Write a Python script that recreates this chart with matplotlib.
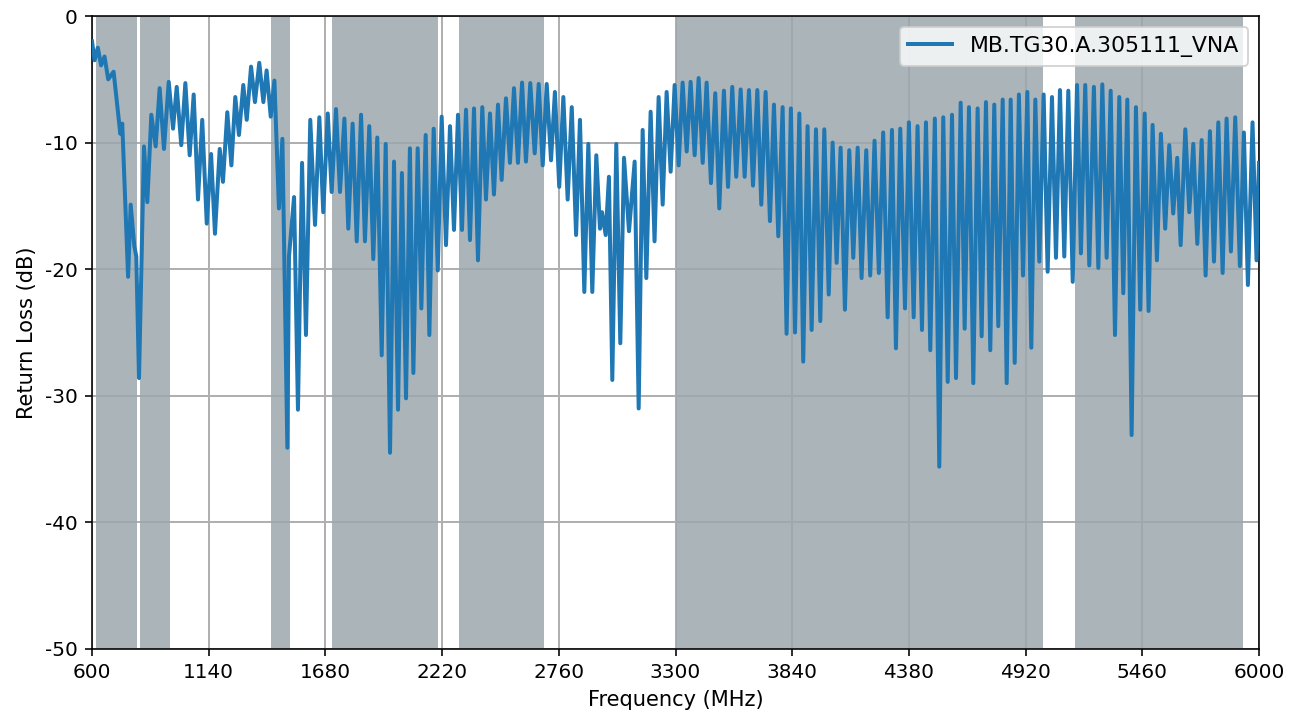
import matplotlib
matplotlib.use("Agg")
import matplotlib.pyplot as plt

plt.rcParams['axes.unicode_minus'] = False
plt.rcParams['font.family'] = ['DejaVu Sans']

# Frequency (MHz) of read-off peaks / dips
freq = [600, 612, 627, 642, 658, 675, 700, 731, 740, 767, 779, 796, 805, 817.5,
        840.6, 856, 874.5, 894.6, 913, 933, 955, 975, 992, 1013, 1032, 1052, 1070.5,
        1090.5, 1110, 1131, 1151, 1169, 1191, 1206, 1226, 1245, 1263,
        1280, 1300, 1316, 1336, 1354, 1374, 1393, 1408, 1427, 1444, 1465, 1481, 1504,
        1511.5, 1535, 1553, 1572, 1590, 1610, 1632, 1652, 1670, 1691, 1709, 1729,
        1747.5, 1768, 1786, 1806, 1825, 1845, 1863, 1883, 1901.6,
        1920, 1940.5, 1959, 1979, 1997.5, 2016, 2034, 2053, 2071, 2087, 2107, 2124,
        2144, 2161, 2181, 2200, 2218, 2238, 2256.6, 2275, 2293.6, 2312, 2330.6, 2349,
        2367.6, 2386, 2406, 2423, 2441.6, 2460, 2478.6, 2495.5, 2515.6, 2534,
        2552.7, 2571, 2590, 2608, 2628, 2648.5, 2667, 2685.5, 2704, 2724, 2742, 2762,
        2781, 2801, 2820, 2840, 2858, 2878, 2896.6, 2915, 2933.5, 2950.6, 2960, 2977,
        2992, 3007.6, 3026, 3044.6, 3061.7, 3084.8, 3111, 3129.6, 3148, 3165, 3185,
        3203, 3222,
        3240.6, 3259, 3277.6, 3296, 3314.6, 3333, 3351.7, 3370, 3388.7, 3407, 3425.8,
        3444, 3464, 3484, 3502.6, 3524, 3543, 3562.7, 3581, 3601.6, 3620, 3640, 3658.6,
        3678.6, 3697, 3717, 3737, 3755.6, 3775.6, 3795.7, 3814, 3834,
        3853, 3873, 3891, 3911, 3930, 3950, 3970, 3988.5, 4009, 4027, 4045.6, 4064,
        4084, 4104, 4122.6, 4143, 4161, 4182.7, 4201, 4221, 4241, 4261, 4281.6, 4301.6,
        4320, 4340, 4362, 4380, 4402, 4420, 4440.5, 4459, 4479, 4500,
        4520.6, 4539, 4559.6, 4579.5, 4598, 4619.6, 4638, 4658, 4678, 4698, 4716.6,
        4736.6, 4756.6, 4775, 4793.6, 4814, 4832.5, 4851, 4869.6, 4889, 4908, 4928,
        4946.4, 4965, 4983.4, 5003.5, 5022, 5042, 5060.6, 5079, 5099, 5117.6, 5138,
        5158, 5176, 5196, 5214.7,
        5236, 5256.5, 5275, 5295, 5313.7, 5333.6, 5353.6, 5372, 5390.7, 5410.6, 5430.6,
        5450.5, 5471, 5489, 5507.7, 5527.6, 5546, 5566, 5584.7, 5603, 5621.6, 5637.5,
        5659, 5677.4, 5696, 5714.5, 5734.7, 5753, 5773, 5791.6, 5811.7, 5831.7, 5850,
        5870, 5890, 5911.6, 5930, 5948.7, 5970, 5988.6, 6000]

# Return loss (dB) at those frequencies
return_loss = [-2.0, -3.5, -2.5, -3.9, -3.2, -5.0, -4.4, -9.3, -8.5, -20.6, -14.9, -18.2, -19.0, -28.6,
               -10.3, -14.7, -7.8, -10.3, -5.7, -10.5, -5.2, -8.9, -5.6, -10.2, -5.3, -11.0, -6.2,
               -14.5, -8.2, -16.4, -10.9, -17.2, -10.5, -13.1, -7.6, -11.8, -6.4,
               -9.4, -5.45, -8.2, -4.0, -6.8, -3.7, -6.8, -4.3, -7.95, -5.1, -15.2, -9.7, -34.1,
               -19.0, -14.3, -31.1, -11.6, -25.2, -8.2, -16.5, -8.0, -15.5, -7.7, -13.9, -7.35,
               -13.9, -8.1, -16.8, -8.5, -17.8, -7.8, -17.8, -8.7, -19.2,
               -9.6, -26.8, -10.1, -34.5, -11.5, -31.1, -12.4, -30.2, -10.45, -28.2, -10.45, -23.1,
               -9.4, -25.2, -8.9, -20.1, -7.95, -18.1, -8.7, -16.9, -7.8, -16.9, -7.4, -17.7,
               -7.3, -19.3, -7.2, -14.5, -7.7, -14.1, -7.0, -12.95, -6.5, -11.6,
               -5.7, -11.6, -5.26, -11.5, -5.3, -10.85, -5.37, -11.8, -5.37, -11.4, -6.0, -13.5,
               -6.4, -14.5, -7.2, -17.3, -8.2, -21.8, -10.1, -21.8, -11.0, -16.8, -15.5, -17.3,
               -12.7, -28.75, -10.1, -25.85, -11.2, -17.0, -11.5, -31.0, -9.0, -20.7, -7.56,
               -17.8, -6.4,
               -14.9, -6.0, -12.3, -5.45, -11.8, -5.26, -10.7, -5.2, -11.0, -4.9, -11.6,
               -5.26, -13.2, -6.1, -15.2, -5.9, -13.5, -5.6, -12.7, -5.8, -12.7, -5.85, -13.4,
               -5.85, -14.9, -6.0, -16.2, -7.0, -17.4, -7.2, -25.1, -7.3,
               -25.0, -7.7, -27.3, -8.7, -24.8, -8.95, -24.1, -8.95, -22.0, -10.0, -19.5, -10.4,
               -23.2, -10.6, -19.1, -10.4, -20.7, -10.6, -20.5, -9.85, -20.3, -9.2, -23.8, -9.0,
               -26.25, -8.9, -23.1, -8.4, -23.8, -8.7, -24.8, -8.4, -26.4, -8.1,
               -35.6, -8.0, -28.9, -7.8, -28.6, -6.85, -24.7, -7.2, -29.0, -7.3, -25.3,
               -6.8, -26.4, -7.0, -24.5, -6.6, -29.0, -6.6, -27.4, -6.2, -20.5, -6.0,
               -26.2, -6.6, -19.4, -6.2, -20.2, -6.4, -19.1, -5.85, -19.0, -5.9, -21.0,
               -5.45, -18.75, -5.45, -19.7,
               -5.6, -19.9, -5.4, -19.1, -5.9, -25.2, -6.4, -21.9, -6.6, -33.1, -7.2,
               -23.2, -7.7, -23.3, -8.6, -19.3, -9.3, -16.8, -10.2, -15.6, -11.2, -18.1,
               -8.95, -15.5, -10.1, -18.0, -9.8, -20.5, -9.1, -19.4, -8.4, -20.3, -8.1,
               -18.6, -8.0, -19.75, -9.2, -21.25, -8.4, -19.3, -11.6]

# Shaded frequency bands (MHz)
band_start = [617, 824, 1427, 1710, 2300, 3300, 5150]
band_end = [806, 960, 1518, 2200, 2690, 5000, 5925]

series_label = "MB.TG30.A.305111_VNA"
x_ticks = [600, 1140, 1680, 2220, 2760, 3300, 3840, 4380, 4920, 5460, 6000]
y_ticks = [0, -10, -20, -30, -40, -50]

fig = plt.figure(figsize=(1299 / 144, 722 / 144), dpi=144)
ax = fig.add_axes([92 / 1299, 1 - 649 / 722, (1259 - 92) / 1299, (649 - 16) / 722])

ax.grid(True, color='#b0b0b0', linewidth=1.0, zorder=0)
ax.set_axisbelow(True)
for s, e in zip(band_start, band_end):
    ax.axvspan(s, e, facecolor='#9ca8ad', alpha=0.85, edgecolor='none', zorder=1)

ax.plot(freq, return_loss, color='#1f77b4', linewidth=2.0, label=series_label,
        zorder=3, solid_joinstyle='round')

ax.set_xlim(600, 6000)
ax.set_ylim(-50, 0)
ax.set_xticks(x_ticks)
ax.set_xticklabels([str(t) for t in x_ticks])
ax.set_yticks(y_ticks)
ax.set_yticklabels([str(t) for t in y_ticks])
ax.tick_params(labelsize=10)
ax.set_xlabel("Frequency (MHz)", fontsize=10.5)
ax.set_ylabel("Return Loss (dB)", fontsize=10.5)
ax.legend(loc='upper right', fontsize=11)

fig.savefig("out.png", dpi=144)
